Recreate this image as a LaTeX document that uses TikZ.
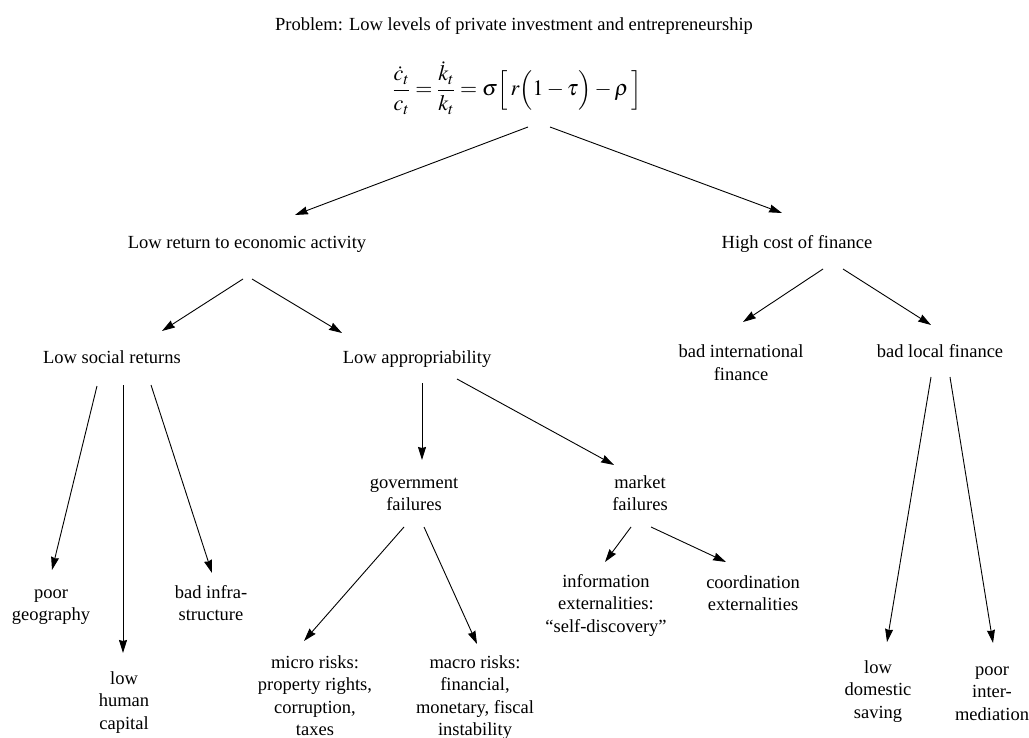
\documentclass[tikz,border=0pt]{standalone}
\usepackage{amsmath}
\usepackage{mathptmx}
\usepackage{fontspec}
\setmainfont{Liberation Serif}
\usetikzlibrary{calc,arrows.meta}

\begin{document}
\begin{tikzpicture}[x=1pt,y=-1pt,>={Stealth[length=13pt,width=8pt,inset=1pt]},
    every node/.style={font=\fontsize{18.5}{22.5}\selectfont,inner sep=0pt,align=center,anchor=base},
    arr/.style={->,line width=0.9pt}]

    % 画布范围
    \useasboundingbox (0,0) rectangle (1029,738);

    % 问题与方程
    \node (prob) at (514,31) {Problem: Low levels of private investment and entrepreneurship};
    \node[anchor=center,font=\fontsize{22}{26}\selectfont] (eq) at (517,88) {$\dfrac{\dot c_t}{c_t}=\dfrac{\dot k_t}{k_t}=\sigma\Bigl[\,r\Bigl(1-\tau\Bigr)-\rho\,\Bigr]$};

    % 第二层
    \node (lowret) at (247,249) {Low return to economic activity};
    \node (highcost) at (797,249) {High cost of finance};

    % 第三层（多行节点以末行基线定位）
    \node (lsr) at (112,363) {Low social returns};
    \node (lapp) at (417,363) {Low appropriability};
    \node (badint) at (741,380.5) {bad international\\finance};
    \node (badloc) at (940,358) {bad local finance};

    % 第四层
    \node (gov) at (414,510.5) {government\\failures};
    \node (market) at (640,510.5) {market\\failures};

    % 底层
    \node (geo) at (51,620.5) {poor\\geography};
    \node (human) at (124,729) {low\\human\\capital};
    \node (infra) at (211,620.5) {bad infra-\\structure};
    \node (micro) at (315,735.5) {micro risks:\\property rights,\\corruption,\\taxes};
    \node (macro) at (475,735.5) {macro risks:\\financial,\\monetary, fiscal\\instability};
    \node (info) at (606,632) {information\\externalities:\\``self-discovery''};
    \node (coord) at (753,610.5) {coordination\\externalities};
    \node (saving) at (878,718) {low\\domestic\\saving};
    \node (interm) at (992,720) {poor\\inter-\\mediation};

    % 箭头
    \draw[arr] ($(eq.center)+(11,39)$) -- ($(lowret.base)+(48,-34)$);
    \draw[arr] ($(eq.center)+(33,39)$) -- ($(highcost.base)+(-15,-36)$);
    \draw[arr] ($(lowret.base)+(-4,30)$) -- ($(lsr.base)+(50,-32)$);
    \draw[arr] ($(lowret.base)+(5,30)$) -- ($(lapp.base)+(-75,-30)$);
    \draw[arr] ($(highcost.base)+(26,20)$) -- ($(badint.base)+(2,-58.5)$);
    \draw[arr] ($(highcost.base)+(46,20)$) -- ($(badloc.base)+(-9,-33)$);
    \draw[arr] ($(lsr.base)+(-15,23)$) -- ($(geo.base)+(1,-50.5)$);
    \draw[arr] ($(lsr.base)+(11,22)$) -- ($(human.base)+(-1,-76)$);
    \draw[arr] ($(lsr.base)+(39,22)$) -- ($(infra.base)+(1,-47.5)$);
    \draw[arr] ($(lapp.base)+(5,20)$) -- ($(gov.base)+(8,-50.5)$);
    \draw[arr] ($(lapp.base)+(40,16)$) -- ($(market.base)+(-26,-45.5)$);
    \draw[arr] ($(gov.base)+(-10,16.5)$) -- ($(micro.base)+(-11,-94.5)$);
    \draw[arr] ($(gov.base)+(10,16.5)$) -- ($(macro.base)+(2,-91.5)$);
    \draw[arr] ($(market.base)+(-9,16.5)$) -- ($(info.base)+(-1,-70)$);
    \draw[arr] ($(market.base)+(11,16.5)$) -- ($(coord.base)+(-27,-48.5)$);
    \draw[arr] ($(badloc.base)+(-9,19)$) -- ($(saving.base)+(9,-76)$);
    \draw[arr] ($(badloc.base)+(10,19)$) -- ($(interm.base)+(1,-77)$);

\end{tikzpicture}
\end{document}
